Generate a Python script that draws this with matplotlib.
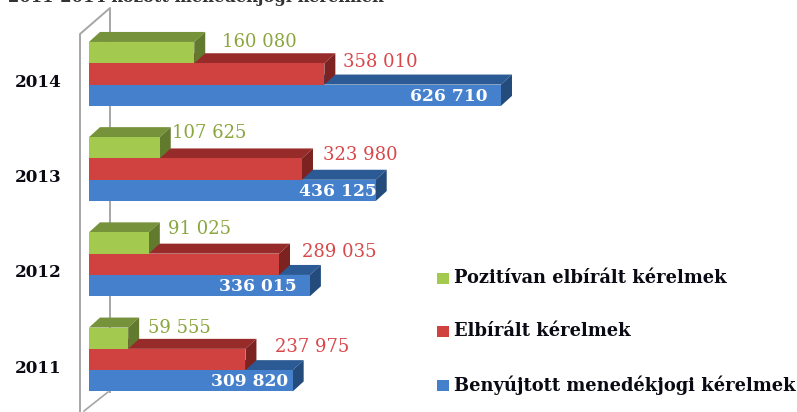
import matplotlib
matplotlib.use("Agg")
import matplotlib.pyplot as plt
from matplotlib.patches import Polygon, Rectangle

years = ["2011", "2012", "2013", "2014"]
pozitiv = [59555, 91025, 107625, 160080]
elbiralt = [237975, 289035, 323980, 358010]
benyujtott = [309820, 336015, 436125, 626710]
pozitiv_labels = ["59 555", "91 025", "107 625", "160 080"]
elbiralt_labels = ["237 975", "289 035", "323 980", "358 010"]
benyujtott_labels = ["309 820", "336 015", "436 125", "626 710"]
legend_labels = ["Pozitívan elbírált kérelmek", "Elbírált kérelmek", "Benyújtott menedékjogi kérelmek"]
title_text = "2011-2014 között menedékjogi kérelmek"

# label nudges in pixels (x from bar end, y above bar centre)
green_dx = [20, 19, 12, 28]
green_dy = [10.5, 13.5, 14.5, 10.5]
red_dx = [30, 23, 21, 19]
red_dy = [12, 12, 14, 12]
blue_dx = [-5, -13, 1, -14]

GREEN = ("#a3c94f", "#76923a", "#627a2e")
RED = ("#d0423f", "#962b29", "#7c2220")
BLUE = ("#4580cd", "#2b5a94", "#234b7c")

W, H = 797, 412
plt.rcParams["font.family"] = ["DejaVu Serif"]

fig = plt.figure(figsize=(W / 100, H / 100), dpi=100)
# pixel coordinates on a full-figure axes for frame and legend
bg = fig.add_axes([0, 0, 1, 1], zorder=0)
bg.set_xlim(0, W)
bg.set_ylim(H, 0)
bg.axis("off")

# data axes: x=0 at pixel 89, one year = 95.2 px
px_per_val = 412 / 626710
px_per_year = 95.2
x0, y_2011 = 89, 359.5
ax = fig.add_axes([0, 0, 1, 1], zorder=1)
ax.set_xlim(-x0 / px_per_val, (W - x0) / px_per_val)
ax.set_ylim(-(H - y_2011) / px_per_year, y_2011 / px_per_year)
ax.axis("off")
ax.patch.set_alpha(0)

bar_h = 21.3 / px_per_year
dx = 11 / px_per_val
dy = 10 / px_per_year

# wall lines
wall = "#a6a6a6"
bg.plot([80, 80, 110, 110], [412, 34, 8, 392], color=wall, lw=1.4)
bg.plot([84, 108], [411, 392], color=wall, lw=1.2)


def bar3d(val, y, cols, z):
    ax.add_patch(Rectangle((0, y - bar_h / 2), val, bar_h, fc=cols[0], ec="none", zorder=z + 0.2))
    top = y + bar_h / 2
    ax.add_patch(Polygon([(0, top), (dx, top + dy), (val + dx, top + dy), (val, top)],
                         fc=cols[1], ec="none", zorder=z))
    ax.add_patch(Polygon([(val, top), (val + dx, top + dy), (val + dx, top + dy - bar_h), (val, top - bar_h)],
                         fc=cols[2], ec="none", zorder=z + 0.1))


for i, year in enumerate(years):
    bar3d(benyujtott[i], i - bar_h, BLUE, 3 + i)
    bar3d(elbiralt[i], i, RED, 3.4 + i)
    bar3d(pozitiv[i], i + bar_h, GREEN, 3.7 + i)
    ax.text(-51 / px_per_val, i - 0.09, year, ha="center", va="center", fontsize=12.2, fontweight="bold",
            color="#0a0a14", zorder=20)
    ax.text(pozitiv[i] + green_dx[i] / px_per_val, i + bar_h + green_dy[i] / px_per_year, pozitiv_labels[i],
            ha="left", va="center", fontsize=13, color="#8aa63e", zorder=20)
    ax.text(elbiralt[i] + red_dx[i] / px_per_val, i + red_dy[i] / px_per_year, elbiralt_labels[i],
            ha="left", va="center", fontsize=13, color="#d8474a", zorder=20)
    ax.text(benyujtott[i] + blue_dx[i] / px_per_val, i - bar_h - 0.01, benyujtott_labels[i],
            ha="right", va="center", fontsize=12.3, fontweight="bold", color="white", zorder=20)

# legend
for label, col, y in zip(legend_labels, [GREEN[0], RED[0], BLUE[0]], [278, 331, 385]):
    bg.add_patch(Rectangle((437, y - 5), 12, 11, fc=col, ec="none"))
    bg.text(454, y, label, ha="left", va="center", fontsize=12.9, fontweight="bold", color="#0a0a14")

# title is cut by the top edge in the reference too
bg.text(8, 2, title_text, ha="left", va="baseline", fontsize=11.8, fontweight="bold", color="#333333")

fig.savefig("out.png", dpi=100)
